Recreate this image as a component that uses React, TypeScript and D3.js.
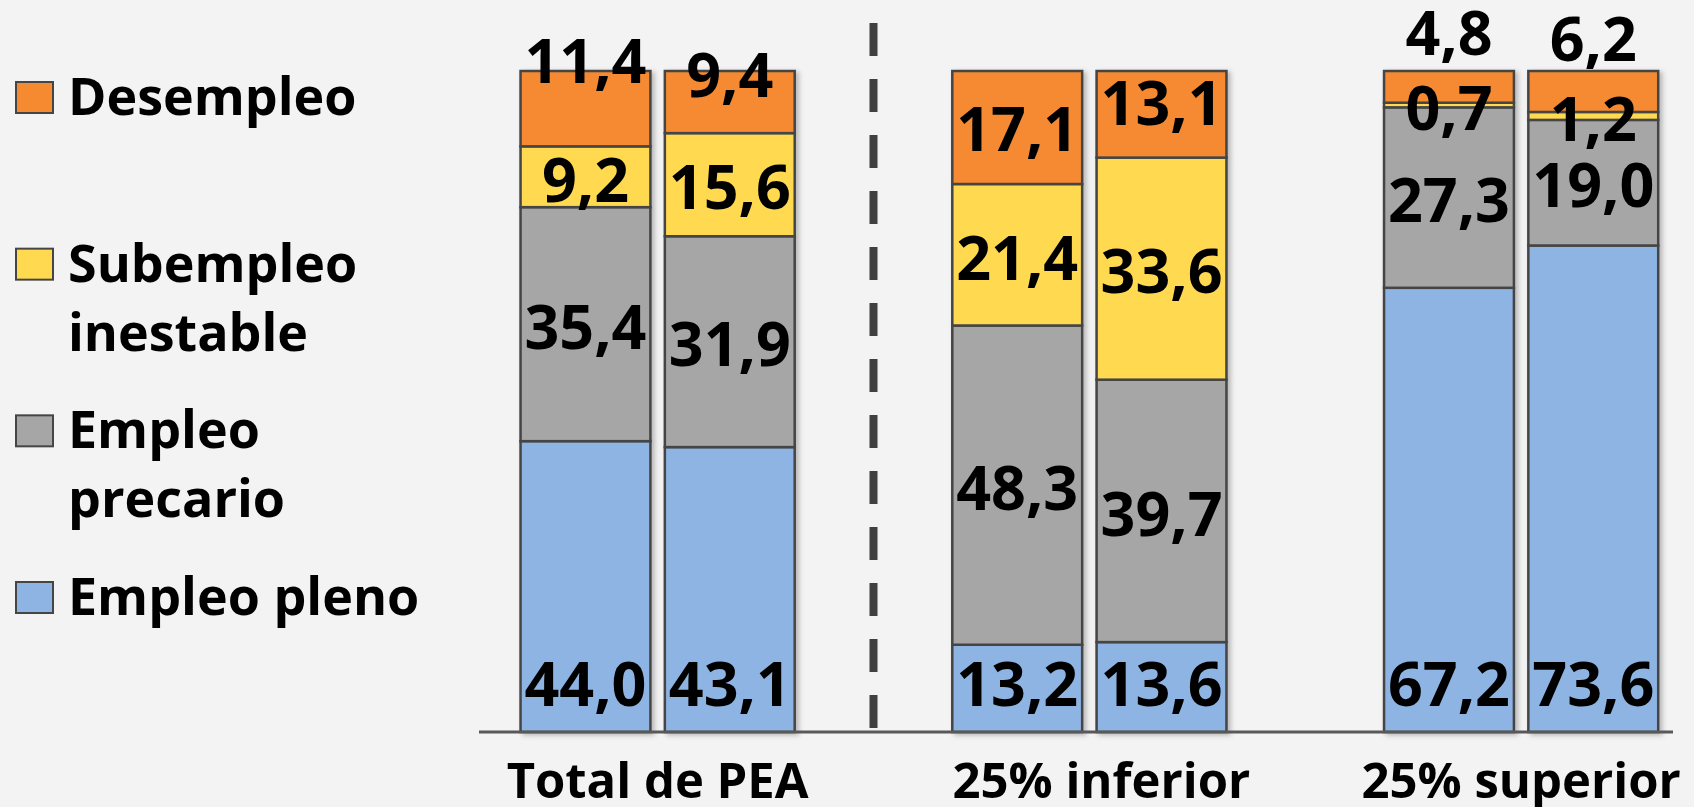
import React from "react";
import * as d3 from "d3";

const groups = ["Total de PEA", "25% inferior", "25% superior"];
const barsPerGroup = ["a", "b"];
const seriesNames = ["Empleo pleno", "Empleo precario", "Subempleo inestable", "Desempleo"];
const legendLines = [["Desempleo"], ["Subempleo", "inestable"], ["Empleo", "precario"], ["Empleo pleno"]];

// bar order: group0 a, group0 b, group1 a, group1 b, group2 a, group2 b
const empleoPleno = [44.0, 43.1, 13.2, 13.6, 67.2, 73.6];
const empleoPrecario = [35.4, 31.9, 48.3, 39.7, 27.3, 19.0];
const subempleo = [9.2, 15.6, 21.4, 33.6, 0.7, 1.2];
const desempleo = [11.4, 9.4, 17.1, 13.1, 4.8, 6.2];

const colors = ["#8EB4E3", "#A6A6A6", "#FFD950", "#F58A30"];

// manual label nudges (px), as placed in the original
const desempleoNudge = [-47, -27, 2, -11, -54, -52];
const categoryNudge = [0, 12, 0];

const W = 1694;
const H = 807;
const FONT = "'Open Sans', 'DejaVu Sans', sans-serif";

const fmt = (v: number) => v.toFixed(1).replace(".", ",");

export default function App() {
  const series = [empleoPleno, empleoPrecario, subempleo, desempleo];
  const x0 = d3
    .scaleBand<string>()
    .domain(groups)
    .range([441.75, 1737])
    .paddingInner(0.365)
    .paddingOuter(0.1825);
  const x1 = d3
    .scaleBand<string>()
    .domain(barsPerGroup)
    .range([0, x0.bandwidth()])
    .paddingInner(0.1);
  const y = d3.scaleLinear().domain([0, 100]).range([732, 71]);

  const bars: { x: number; w: number; y0: number; y1: number; s: number; v: number; i: number }[] = [];
  groups.forEach((g, gi) => {
    barsPerGroup.forEach((b, bi) => {
      const i = gi * 2 + bi;
      let acc = 0;
      series.forEach((arr, s) => {
        const v = arr[i];
        bars.push({
          x: (x0(g) as number) + (x1(b) as number),
          w: x1.bandwidth(),
          y0: y(acc),
          y1: y(acc + v),
          s,
          v,
          i,
        });
        acc += v;
      });
    });
  });

  const dividerX = ((x0(groups[0]) as number) + x0.bandwidth() + (x0(groups[1]) as number)) / 2;
  const legendY = d3.scalePoint<number>().domain([0, 1, 2, 3]).range([82, 582]);

  const labelFont = 61;
  const digitHalf = labelFont * 0.714 / 2;

  return (
    <svg
      width={W}
      height={H}
      style={{ position: "fixed", left: 0, top: 0, display: "block" }}
      fontFamily={FONT}
    >
      <defs>
        <filter id="sh" x="-10%" y="-10%" width="130%" height="130%">
          <feDropShadow dx="3" dy="2" stdDeviation="2.5" floodColor="#000" floodOpacity="0.25" />
        </filter>
      </defs>
      <rect x={0} y={0} width={W} height={H} fill="#F3F3F3" />

      {/* divider */}
      <line
        x1={dividerX}
        x2={dividerX}
        y1={23}
        y2={728}
        stroke="#404040"
        strokeWidth={8}
        strokeDasharray="33 23"
      />

      {/* bars */}
      <g filter="url(#sh)">
        {bars.map((d, k) => (
          <rect
            key={k}
            x={d.x}
            y={d.y1}
            width={d.w}
            height={d.y0 - d.y1}
            fill={colors[d.s]}
            stroke="#454545"
            strokeWidth={2.5}
          />
        ))}
      </g>

      {/* axis line */}
      <line x1={479} x2={1673} y1={y(0)} y2={y(0)} stroke="#595959" strokeWidth={3} />

      {/* value labels */}
      {bars.map((d, k) => {
        const cx = d.x + d.w / 2;
        let vc: number;
        if (d.s === 0) vc = y(0) - 26 - digitHalf;
        else if (d.s === 3) vc = (d.y0 + d.y1) / 2 + desempleoNudge[d.i];
        else vc = (d.y0 + d.y1) / 2 + 3;
        return (
          <text
            key={"l" + k}
            x={cx}
            y={vc + digitHalf}
            textAnchor="middle"
            fontSize={labelFont}
            fontWeight={700}
            fill="#000"
          >
            {fmt(d.v)}
          </text>
        );
      })}

      {/* category labels */}
      {groups.map((g, gi) => (
        <text
          key={g}
          x={(x0(g) as number) + x0.bandwidth() / 2 + categoryNudge[gi]}
          y={798}
          textAnchor="middle"
          fontSize={49}
          fontWeight={700}
          fill="#000"
        >
          {g}
        </text>
      ))}

      {/* legend */}
      {legendLines.map((lines, li) => {
        const top = legendY(li) as number;
        const sIdx = 3 - li;
        return (
          <g key={"lg" + li}>
            <rect x={16} y={top} width={37} height={31} fill={colors[sIdx]} stroke="#454545" strokeWidth={2} />
            <text x={68} y={top + 33} fontSize={52} fontWeight={700} fill="#000" aria-label={seriesNames[sIdx]}>
              {lines.map((t, j) => (
                <tspan key={j} x={68} dy={j === 0 ? 0 : 69}>
                  {t}
                </tspan>
              ))}
            </text>
          </g>
        );
      })}
    </svg>
  );
}
